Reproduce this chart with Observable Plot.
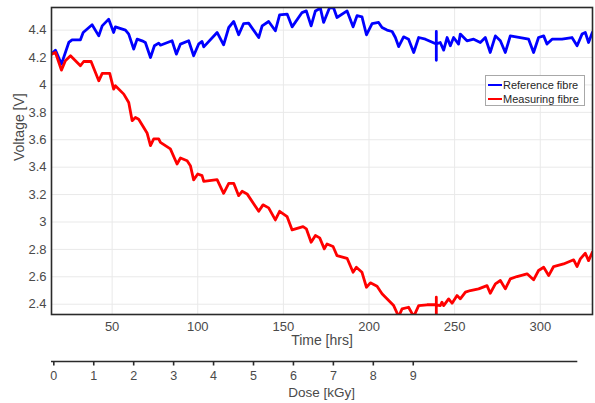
<!DOCTYPE html>
<html>
<head>
<meta charset="utf-8">
<script src="https://cdn.jsdelivr.net/npm/d3@7"></script>
<script src="https://cdn.jsdelivr.net/npm/@observablehq/plot@0.6"></script>
<style>
  html, body { margin: 0; padding: 0; background: white; }
  #wrap { position: relative; width: 595px; height: 403px; font-family: "Liberation Sans", Arial, sans-serif; }
  #wrap svg { position: absolute; left: 0; display: block; }
  #legend { position: absolute; left: 485px; top: 75px; width: 100px; height: 31px; border: 1px solid #a8a8a8; background: white; box-sizing: border-box; font-size: 11px; color: #262626; }
  .row { position: absolute; left: 2px; height: 14px; line-height: 14px; white-space: nowrap; }
  .sw { display: inline-block; width: 14px; height: 2.5px; vertical-align: middle; margin-right: 1px; position: relative; top: -1px; }
</style>
</head>
<body>
<div id="wrap"></div>
<script>
// Reference fibre (blue)
const timeRef = [14.6,16.9,20.4,24.7,26.6,31.5,33.1,38.3,42.2,44.2,48.0,50.9,51.9,57.8,59.7,62.6,64.6,67.5,69.4,72.4,74.7,77.2,78.2,85.0,87.5,89.9,94.7,97.6,100.6,102.5,103.5,111.3,115.1,118.1,121.0,123.9,126.8,129.7,135.6,137.6,141.4,145.3,147.8,152.2,155.1,160.9,163.4,166.2,168.7,171.6,173.5,177.0,179.4,181.3,187.2,190.7,193.0,195.9,198.5,201.8,205.6,207.6,210.5,213.5,215.4,217.3,220.2,223.1,226.1,229.0,232.9,239.3,239.3,239.3,239.3,241.6,243.6,245.6,247.5,249.4,252.3,253.3,257.2,261.1,265.0,267.9,270.8,273.8,276.7,279.6,282.5,288.3,293.2,296.1,299.0,302.0,303.9,306.9,312.7,318.5,321.5,324.4,326.3,328.2,330.4];
const voltRef = [4.225,4.254,4.152,4.31,4.329,4.329,4.383,4.439,4.358,4.431,4.48,4.383,4.424,4.40,4.371,4.261,4.334,4.322,4.31,4.20,4.286,4.305,4.29,4.322,4.225,4.298,4.322,4.213,4.30,4.317,4.278,4.383,4.293,4.419,4.463,4.366,4.448,4.451,4.346,4.431,4.463,4.395,4.511,4.517,4.424,4.528,4.54,4.431,4.54,4.56,4.456,4.565,4.56,4.492,4.54,4.424,4.505,4.497,4.366,4.448,4.456,4.419,4.40,4.39,4.346,4.28,4.351,4.334,4.237,4.346,4.334,4.298,4.39,4.18,4.30,4.31,4.254,4.346,4.286,4.346,4.298,4.371,4.322,4.334,4.31,4.346,4.237,4.358,4.322,4.237,4.358,4.346,4.334,4.237,4.346,4.358,4.298,4.334,4.334,4.346,4.286,4.371,4.383,4.31,4.383];

// Measuring fibre (red)
const timeMeas = [14.6,16.9,20.4,22.7,25.7,31.5,33.4,37.7,42.2,44.2,48.6,50.9,51.9,56.8,59.7,61.7,63.6,65.5,70.4,72.4,74.3,77.2,78.2,84.0,87.9,89.9,93.8,95.7,97.6,100.0,102.5,103.5,111.3,115.1,118.1,121.0,123.9,125.9,128.8,135.6,138.1,141.4,145.3,147.8,152.2,155.1,161.5,163.4,166.2,168.7,171.2,173.9,175.5,179.0,181.3,187.2,190.7,192.6,195.9,198.5,200.8,204.7,207.6,214.4,217.3,219.3,223.1,226.1,229.0,233.9,239.3,239.3,239.3,239.3,241.6,242.6,243.6,246.5,248.5,251.4,253.3,256.3,259.2,264.0,268.9,270.8,273.8,276.7,279.6,282.5,286.4,292.3,296.1,299.0,302.0,304.9,307.8,313.6,319.5,321.5,323.4,326.3,328.2,330.4];
const voltMeas = [4.225,4.237,4.108,4.176,4.213,4.14,4.171,4.171,4.03,4.084,4.084,3.97,3.994,3.933,3.872,3.739,3.763,3.75,3.65,3.557,3.606,3.606,3.581,3.533,3.423,3.467,3.447,3.411,3.307,3.350,3.338,3.297,3.309,3.209,3.282,3.282,3.192,3.224,3.205,3.078,3.125,3.103,3.015,3.078,3.039,2.942,2.966,2.95,2.852,2.901,2.884,2.804,2.84,2.821,2.755,2.735,2.633,2.67,2.633,2.524,2.556,2.531,2.476,2.39,2.31,2.366,2.378,2.31,2.39,2.396,2.396,2.451,2.29,2.396,2.39,2.415,2.39,2.439,2.407,2.463,2.439,2.488,2.5,2.512,2.536,2.48,2.549,2.573,2.512,2.585,2.602,2.622,2.578,2.646,2.67,2.609,2.675,2.694,2.724,2.675,2.731,2.772,2.718,2.779];

const xTicks = [50, 100, 150, 200, 250, 300];
const yTicks = [2.4, 2.6, 2.8, 3, 3.2, 3.4, 3.6, 3.8, 4, 4.2, 4.4];
const doseTicks = [0, 1, 2, 3, 4, 5, 6, 7, 8, 9];

const ref = timeRef.map((t, i) => ({t, v: voltRef[i]}));
const meas = timeMeas.map((t, i) => ({t, v: voltMeas[i]}));

const font = "'Liberation Sans', Arial, sans-serif";

const main = Plot.plot({
  width: 595, height: 352,
  marginLeft: 51, marginRight: 3, marginTop: 7, marginBottom: 38,
  style: {fontFamily: font, fontSize: "13px", color: "#4a4a4a", background: "white", overflow: "visible"},
  x: {domain: [14.6, 330.5]},
  y: {domain: [2.325, 4.565]},
  marks: [
    Plot.gridX(xTicks, {stroke: "#e9e9e9", strokeOpacity: 1}),
    Plot.gridY(yTicks, {stroke: "#e9e9e9", strokeOpacity: 1}),
    Plot.axisX(xTicks, {tickSize: 0, tickPadding: 7.5, label: null, tickFormat: d => String(d)}),
    Plot.axisY(yTicks, {tickSize: 0, tickPadding: 5, label: null, tickFormat: d => String(+d.toFixed(1))}),
    Plot.line(ref, {x: "t", y: "v", stroke: "#0000ff", strokeWidth: 2.8, strokeLinejoin: "round", clip: true}),
    Plot.line(meas, {x: "t", y: "v", stroke: "#ff0000", strokeWidth: 2.8, strokeLinejoin: "round", clip: true}),
    Plot.frame({stroke: "#2a2a2a", strokeWidth: 1.6}),
    Plot.text(["Time [hrs]"], {text: d => d, frameAnchor: "bottom", dy: 30, fontSize: 14}),
    Plot.text(["Voltage [V]"], {text: d => d, frameAnchor: "left", dx: -32, rotate: -90, fontSize: 14})
  ]
});
main.style.top = "0px";

const dose = Plot.plot({
  width: 595, height: 51,
  marginLeft: 51, marginRight: 17.7, marginTop: 8, marginBottom: 42,
  style: {fontFamily: font, fontSize: "12.5px", color: "#4a4a4a", background: "transparent", overflow: "visible"},
  x: {domain: [-0.058, 13.12]},
  y: {domain: [0, 1], axis: null},
  marks: [
    Plot.ruleY([0], {stroke: "#2a2a2a", strokeWidth: 1.6}),
    Plot.axisX(doseTicks, {tickSize: 4.5, tickPadding: 5.5, stroke: "#2a2a2a", strokeWidth: 1.6, label: null, tickFormat: d => String(d)}),
    Plot.text(["Dose [kGy]"], {text: d => d, frameAnchor: "bottom", dx: 7, dy: 35, fontSize: 13.5})
  ]
});
dose.style.top = "352px";

const wrap = document.getElementById("wrap");
wrap.appendChild(main);
wrap.appendChild(dose);

const legend = document.createElement("div");
legend.id = "legend";
legend.innerHTML =
  '<div class="row" style="top:2px"><span class="sw" style="background:#0000ff"></span>Reference fibre</div>' +
  '<div class="row" style="top:16px"><span class="sw" style="background:#ff0000"></span>Measuring fibre</div>';
wrap.appendChild(legend);
</script>
</body>
</html>
